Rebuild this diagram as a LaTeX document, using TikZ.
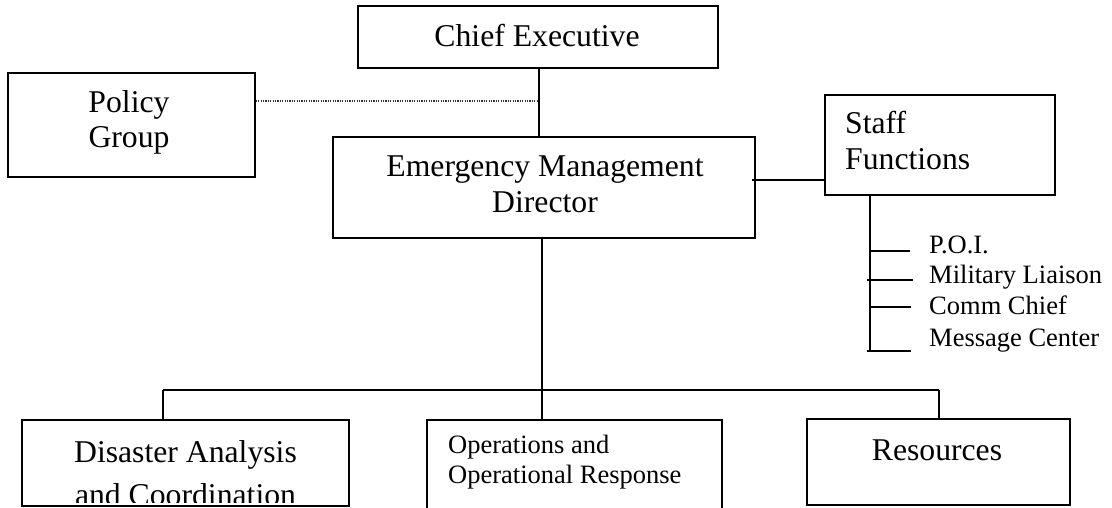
\documentclass[tikz,border=0pt]{standalone}
\usepackage{fontspec}
\setmainfont{Liberation Serif}
\begin{document}
\begin{tikzpicture}[x=1pt,y=-1pt,
  box/.style={draw, line width=1.6pt, inner sep=0pt},
  big/.style={font=\fontsize{31.7}{37}\selectfont, inner sep=0pt, anchor=base},
  bigw/.style={big, anchor=base west},
  small/.style={font=\fontsize{26.5}{31}\selectfont, inner sep=0pt, anchor=base west},
  link/.style={line width=1.6pt},
  dotlink/.style={line width=1.2pt, dash pattern=on 1.2pt off 1.2pt, black!80},
]
\useasboundingbox (0,0) rectangle (1112,508);

% boxes
\node[box, minimum width=360pt, minimum height=62pt] (ce) at (538,37) {};
\node[box, minimum width=247pt, minimum height=104pt] (policy) at (131.5,125) {};
\node[box, minimum width=422pt, minimum height=101pt] (emd) at (544,187.5) {};
\node[box, minimum width=230pt, minimum height=100pt] (staff) at (940,145) {};
\node[box, minimum width=327pt, minimum height=86pt] (dac) at (185.5,463) {};
\node[box, minimum width=295pt, minimum height=90pt] (ops) at (574.5,465) {};
\node[box, minimum width=263pt, minimum height=86pt] (res) at (938.5,462) {};

% box texts
\node[big] (ceT) at (537,47) {Chief Executive};
\node[big] (polT1) at (129,113) {Policy};
\node[big] (polT2) at (129,148) {Group};
\node[big] (emdT1) at (545,177) {Emergency Management};
\node[big] (emdT2) at (545,212) {Director};
\node[bigw] (stfT1) at (845,134) {Staff};
\node[bigw] (stfT2) at (845,170) {Functions};
\node[big] (dacT1) at (185.5,462) {Disaster Analysis};
% the second line runs past the bottom of its box and is cut off there
\begin{scope}
  \clip (23,421) rectangle (348,502.5);
  \node[big] (dacT2) at (185.5,505.5) {and Coordination};
\end{scope}
\node[small] (opsT1) at (448,453) {Operations and};
\node[small] (opsT2) at (448,483) {Operational Response};
\node[big] (resT) at (937,460) {Resources};

% staff function list
\node[small] (poi) at (929,253) {P.O.I.};
\node[small] (mil) at (929,283) {Military Liaison};
\node[small] (comm) at (929,314) {Comm Chief};
\node[small] (msg) at (929,346) {Message Center};

% junction points
\coordinate (pj) at (539,101);
\coordinate (sj) at (752,180);
\coordinate (bus) at (542,390);
\coordinate (busL) at (163,390);
\coordinate (busR) at (939,390);
\coordinate (sv) at (870,195);
\coordinate (svEnd) at (870,351);

% connectors
\draw[link] (539,0 |- ce.south) -- (539,0 |- emd.north);
\draw[dotlink] (policy.east |- pj) -- (pj);
\draw[link] (sj) -- (sj -| staff.west);
\draw[link] (bus |- emd.south) -- (bus);
\draw[link] (busL) -- (busR);
\draw[link] (busL) -- (busL |- dac.north);
\draw[link] (bus) -- (bus |- ops.north);
\draw[link] (busR) -- (busR |- res.north);

% staff list bracket
\draw[link] (sv) -- (svEnd);
\draw[link] (870,251) -- (910,251);
\draw[link] (867,280) -- (913,280);
\draw[link] (870,307) -- (911,307);
\draw[link] (867,351) -- (911,351);
\end{tikzpicture}
\end{document}
